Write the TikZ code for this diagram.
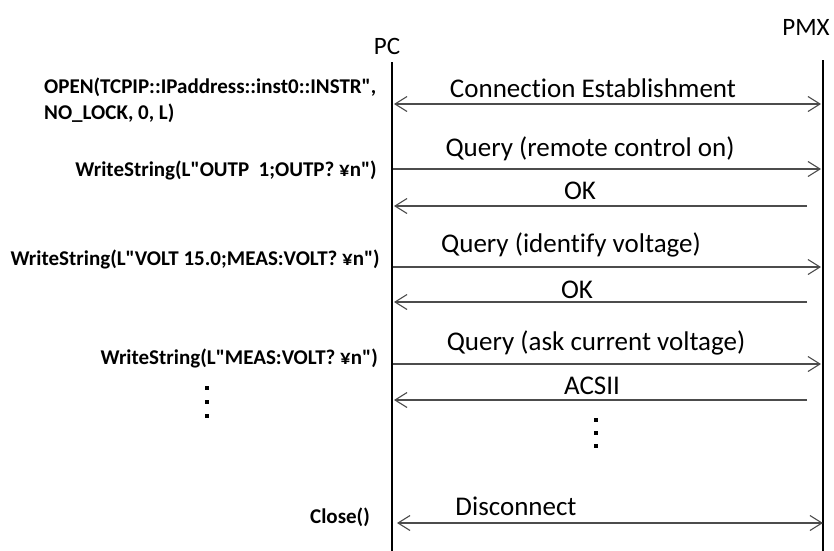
\documentclass[tikz,border=0pt]{standalone}
\usepackage{fontspec}
\setmainfont{Carlito}[Ligatures={TeXOff,NoCommon}]
\usetikzlibrary{arrows.meta}
\tikzset{
  lifeline/.style={line width=2.6pt, black},
  msg/.style={line width=1.1pt, black!70, -{Straight Barb[length=12pt,width=15pt,line width=1.1pt]}},
  msgboth/.style={line width=1.1pt, black!70, {Straight Barb[length=12pt,width=15pt,line width=1.1pt]}-{Straight Barb[length=12pt,width=15pt,line width=1.1pt]}},
  msglabel/.style={font=\fontsize{27}{29}\selectfont, inner sep=0pt},
  call/.style={font=\bfseries\fontsize{21}{26}\selectfont, inner sep=0pt},
  actor/.style={font=\fontsize{25}{27}\selectfont, inner sep=0pt},
  dot/.style={fill=black, minimum size=4.5pt, inner sep=0pt},
}
\begin{document}
\begin{tikzpicture}[x=1pt, y=-1pt]
\useasboundingbox (0,0) rectangle (834,550);

% participants and lifelines
\node[actor] (pc) at (387,46) {PC};
\node[actor] (pmx) at (806,27) {PMX};
\coordinate (pctop) at (392,62);
\coordinate (pcbot) at (392,552);
\coordinate (pmxtop) at (823,60);
\coordinate (pmxbot) at (823,552);
\draw[lifeline] (pctop) -- (pcbot);
\draw[lifeline] (pmxtop) -- (pmxbot);

% message end points
\coordinate (a1) at (394,104);  \coordinate (b1) at (821,104);
\coordinate (a2) at (393,169);  \coordinate (b2) at (821,169);
\coordinate (a3) at (394,206);  \coordinate (b3) at (807,206);
\coordinate (a4) at (393,267);  \coordinate (b4) at (821,267);
\coordinate (a5) at (394,302);  \coordinate (b5) at (807,302);
\coordinate (a6) at (393,364);  \coordinate (b6) at (821,364);
\coordinate (a7) at (394,400);  \coordinate (b7) at (807,400);
\coordinate (a8) at (397,523);  \coordinate (b8) at (823,523);

% messages
\draw[msgboth] (a1) -- (b1);
\draw[msg] (a2) -- (b2);
\draw[msg] (b3) -- (a3);
\draw[msg] (a4) -- (b4);
\draw[msg] (b5) -- (a5);
\draw[msg] (a6) -- (b6);
\draw[msg] (b7) -- (a7);
\draw[msgboth] (a8) -- (b8);

% message labels
\node[msglabel] (l1) at (593,88) {Connection Establishment};
\node[msglabel] (l2) at (590,149) {Query (remote control on)};
\node[msglabel] (l3) at (580,191) {OK};
\node[msglabel] (l4) at (571,245) {Query (identify voltage)};
\node[msglabel] (l5) at (577,290) {OK};
\node[msglabel] (l6) at (596,343) {Query (ask current voltage)};
\node[msglabel] (l7) at (592,386) {ACSII};
\node[msglabel] (l8) at (516,506) {Disconnect};

% continuation dots between the lifelines
\node[dot] (d1) at (596,420) {};
\node[dot] (d2) at (596,433) {};
\node[dot] (d3) at (596,446) {};

% calls issued on the PC side
\node[call, align=left, anchor=north west] (c1) at (44,78) {OPEN(TCPIP::IPaddress::inst0::INSTR",\\NO\_LOCK, 0, L)};
\node[call, anchor=east] (c2) at (377,170) {WriteString(L"OUTP\ \ 1;OUTP? ¥n")};
\node[call, anchor=east] (c3) at (380,259) {WriteString(L"VOLT 15.0;MEAS:VOLT? ¥n")};
\node[call, anchor=east] (c4) at (378,358) {WriteString(L"MEAS:VOLT? ¥n")};
\node[call, anchor=east] (c5) at (370,517) {Close()};

% continuation dots on the call side
\node[dot] (e1) at (207,388) {};
\node[dot] (e2) at (207,402) {};
\node[dot] (e3) at (207,416) {};
\end{tikzpicture}
\end{document}
